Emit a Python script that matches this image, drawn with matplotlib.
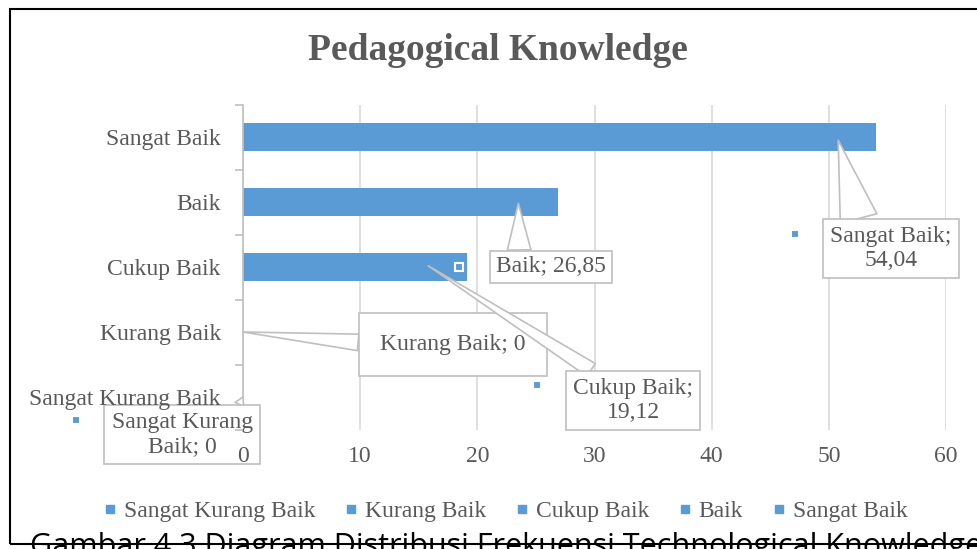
import textwrap

import matplotlib
matplotlib.use('Agg')

import numpy as np
import matplotlib.pyplot as plt
import matplotlib.transforms as mtransforms
from matplotlib.lines import Line2D
from matplotlib.patches import Rectangle

categories = ['Sangat Kurang Baik', 'Kurang Baik', 'Cukup Baik', 'Baik', 'Sangat Baik']
values = [0, 0, 19.12, 26.85, 54.04]
x_ticks = [0, 10, 20, 30, 40, 50, 60]
title = 'Pedagogical Knowledge'
caption = 'Gambar 4.3 Diagram Distribusi Frekuensi Technological Knowledge'

# callout placement as Excel left it (data coords), plus where each pointer lands
label_xy = [(-5.2, -0.58), (17.9, 0.81), (33.3, -0.05), (26.3, 2.0), (55.3, 2.28)]
pointer_xy = [(0, 0), (0, 1), (15.8, 2.02), (23.5, 2.98), (50.8, 3.95)]
wedge_from = [(0.88, 1), (0, 0.5), (0.25, 1), (0.21, 1), (0.25, 1)]
wrap_at = [13, 20, 13, 20, 13]
box_pad = [0.3, 0.9, 0.3, 0.25, 0.3]
wedge_w = [0.4, 0.7, 0.65, 1.0, 1.6]
# little legend-key squares Excel puts beside the labels (pixel offsets)
key_off = [(-106, 14.5), None, (-96, 15), (-92, 0), (-96, 15)]

BLUE = '#5B9BD5'
GREY_TXT = '#595959'
GREY_LN = '#BFBFBF'

plt.rcParams['font.family'] = ['Liberation Serif', 'DejaVu Serif']

W, H = 977, 549
fig = plt.figure(figsize=(W / 100, H / 100), dpi=100)
ax = fig.add_axes([243 / W, 1 - 429.5 / H, 703 / W, 325 / H])

y = np.arange(len(categories))
ax.barh(y, values, height=0.43, color=BLUE, zorder=2)

ax.set_xlim(0, 60)
ax.set_ylim(-0.5, len(categories) - 0.5)
ax.set_xticks(x_ticks)
ax.set_yticks(y)
ax.set_yticklabels(categories)
ax.set_yticks(np.arange(-0.5, len(categories), 1), minor=True)

ax.tick_params(axis='y', which='major', length=0, pad=16, labelsize=17, labelcolor=GREY_TXT)
ax.tick_params(axis='y', which='minor', length=6, width=1.2, color=GREY_LN)
ax.tick_params(axis='x', length=0, pad=12, labelsize=17, labelcolor=GREY_TXT)

# gridlines low, tick labels on top of the callouts (like the "0" in the Excel chart)
for t in x_ticks:
    ax.axvline(t, color='#D9D9D9', lw=1.2, zorder=0.5)
ax.xaxis.set_zorder(7)
ax.yaxis.set_zorder(7)

for s in ['top', 'right', 'bottom']:
    ax.spines[s].set_visible(False)
ax.spines['left'].set_color(GREY_LN)
ax.spines['left'].set_linewidth(1.2)

def fmt(v):
    return ('%.2f' % v).replace('.', ',') if v else '0'

for i, (cat, v) in enumerate(zip(categories, values)):
    txt = '\n'.join(textwrap.wrap('%s; %s' % (cat, fmt(v)), wrap_at[i]))
    ax.annotate(txt, xy=pointer_xy[i], xytext=label_xy[i], textcoords='data',
                ha='center', va='center', multialignment='center',
                fontsize=17, color=GREY_TXT,
                bbox=dict(boxstyle='square,pad=%s' % box_pad[i], fc='white', ec=GREY_LN, lw=1.2),
                arrowprops=dict(arrowstyle='wedge,tail_width=%s,shrink_factor=0.5' % wedge_w[i],
                                fc='white', ec=GREY_LN, lw=1.2, shrinkA=0, shrinkB=0,
                                relpos=wedge_from[i]),
                annotation_clip=False, zorder=5)
    if key_off[i] is not None:
        tr = mtransforms.offset_copy(ax.transData, fig=fig, x=key_off[i][0], y=key_off[i][1], units='dots')
        ax.plot([label_xy[i][0]], [label_xy[i][1]], marker='s', ms=6, color=BLUE,
                mec='white', mew=1.5, transform=tr, clip_on=False, zorder=6)

handles = [Line2D([], [], marker='s', ls='none', color=BLUE, ms=6) for _ in categories]
fig.legend(handles, categories, loc='center', bbox_to_anchor=(0.517, 0.069), ncol=5,
           frameon=False, fontsize=17, handlelength=0.6, handletextpad=0.3,
           columnspacing=1.2, labelcolor=GREY_TXT)

fig.text(498 / W, 1 - 51 / H, title, ha='center', va='center', fontsize=27,
         fontweight='bold', color=GREY_TXT)

fig.add_artist(Rectangle((10 / W, 1 - 544 / H), 1.2, 535 / H, transform=fig.transFigure,
                         fill=False, ec='black', lw=1.5, clip_on=False))

fig.text(30 / W, -0.011, caption, ha='left', va='baseline', fontsize=22,
         family=['Open Sans', 'DejaVu Sans'], color='black')

fig.savefig('out.png', dpi=100)
